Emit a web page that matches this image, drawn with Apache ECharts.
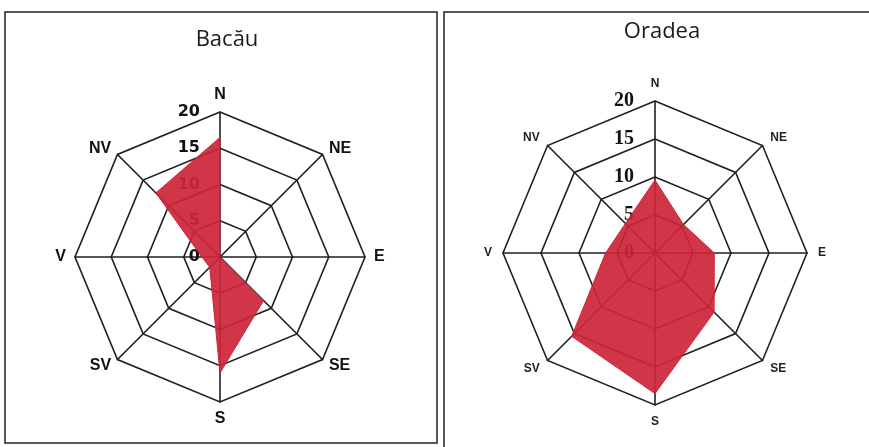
<!DOCTYPE html>
<html>
<head>
<meta charset="utf-8">
<script src="https://cdn.jsdelivr.net/npm/echarts@6/dist/echarts.min.js"></script>
<style>
  html, body { margin: 0; padding: 0; background: #ffffff; }
  #chart { width: 869px; height: 447px; }
</style>
</head>
<body>
<div id="chart"></div>
<script>
// Directions (clockwise from North)
const directions = ['N', 'NE', 'E', 'SE', 'S', 'SV', 'V', 'NV'];
const tickLabels = ['0', '5', '10', '15', '20'];
const maxValue = 20;
// Frequencies (%)
const bacauValues = [16.5, 0, 0, 8.5, 16, 2, 2.5, 12.5];
const oradeaValues = [9.6, 5.3, 7.8, 11, 18.5, 15.5, 6.5, 5.5];
const titles = ['Bacău', 'Oradea'];

// ECharts lays radar indicators counter-clockwise, so reorder: N, NV, V, SV, S, SE, E, NE
const order = [0, 7, 6, 5, 4, 3, 2, 1];

function indicators(labelFont, labelSize, labelMargin) {
  return order.map(function (i, k) {
    const ind = { name: directions[i], max: maxValue, min: 0 };
    if (k === 0) {
      ind.axisLabel = {
        show: true,
        fontFamily: labelFont,
        fontWeight: 'bold',
        fontSize: labelSize,
        color: '#111',
        margin: labelMargin,
        formatter: function (v) { return tickLabels[Math.round(v / 5)]; }
      };
    }
    return ind;
  });
}

const lineStyle = { color: '#1f1f24', width: 1.6 };
const fillColor = '#cd2438';

const chart = echarts.init(document.getElementById('chart'));
chart.setOption({
  backgroundColor: '#ffffff',
  animation: false,
  title: [
    { text: titles[0], left: 222, top: 24, textAlign: 'center',
      textStyle: { fontFamily: 'Open Sans', fontWeight: 'normal', fontSize: 22, color: '#1a1a1a' } },
    { text: titles[1], left: 657, top: 16, textAlign: 'center',
      textStyle: { fontFamily: 'Open Sans', fontWeight: 'normal', fontSize: 22, color: '#1a1a1a' } }
  ],
  graphic: [
    { type: 'rect', shape: { x: 5, y: 12, width: 432, height: 431 },
      style: { fill: 'none', stroke: '#222', lineWidth: 1.5 }, z: -1 },
    { type: 'rect', shape: { x: 444, y: 12, width: 440, height: 440 },
      style: { fill: 'none', stroke: '#222', lineWidth: 1.5 }, z: -1 }
  ],
  radar: [
    {
      center: [220, 257],
      radius: 145,
      startAngle: 90,
      shape: 'polygon',
      splitNumber: 4,
      indicator: indicators('DejaVu Sans', 16, 20),
      axisName: { color: '#111', fontFamily: 'Liberation Sans', fontWeight: 'bold', fontSize: 16 },
      nameGap: 9,
      axisLine: { lineStyle: lineStyle },
      splitLine: { lineStyle: lineStyle },
      splitArea: { show: false },
      axisTick: { show: false },
      axisLabel: { show: false }
    },
    {
      center: [655, 253],
      radius: 152,
      startAngle: 90,
      shape: 'polygon',
      splitNumber: 4,
      indicator: indicators('Liberation Serif', 20, 21),
      axisName: { color: '#222', fontFamily: 'Liberation Sans', fontWeight: 'bold', fontSize: 12 },
      nameGap: 11,
      axisLine: { lineStyle: lineStyle },
      splitLine: { lineStyle: lineStyle },
      splitArea: { show: false },
      axisTick: { show: false },
      axisLabel: { show: false }
    }
  ],
  series: [
    {
      type: 'radar', radarIndex: 0, symbol: 'none',
      lineStyle: { color: fillColor, width: 1 },
      areaStyle: { color: fillColor, opacity: 0.92 },
      data: [{ value: order.map(function (i) { return bacauValues[i]; }), name: titles[0] }]
    },
    {
      type: 'radar', radarIndex: 1, symbol: 'none',
      lineStyle: { color: fillColor, width: 1 },
      areaStyle: { color: fillColor, opacity: 0.92 },
      data: [{ value: order.map(function (i) { return oradeaValues[i]; }), name: titles[1] }]
    }
  ]
});
</script>
</body>
</html>
